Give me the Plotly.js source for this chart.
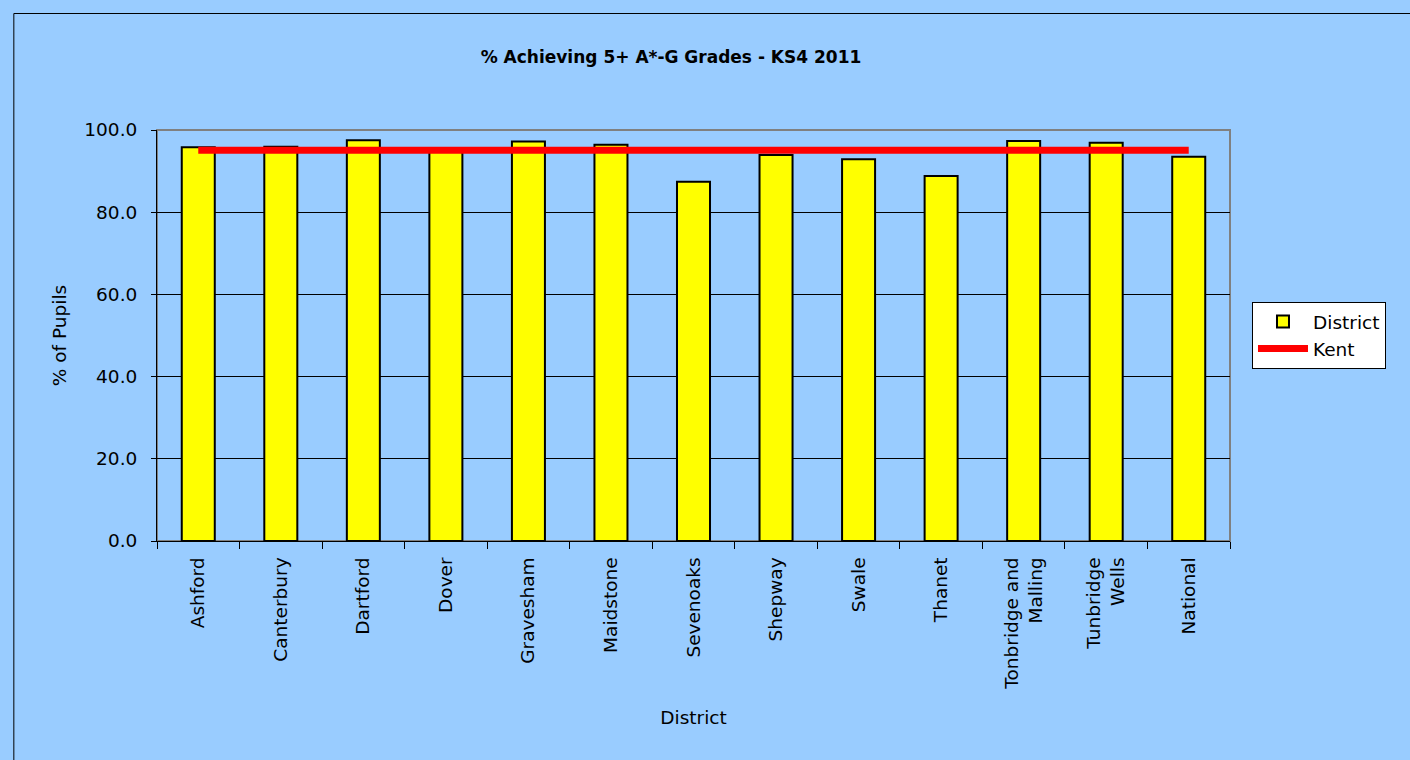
<!DOCTYPE html>
<html>
<head>
<meta charset="utf-8">
<script src="https://cdn.plot.ly/plotly-3.0.1.min.js"></script>
<style>html,body{margin:0;padding:0;background:#99CCFF;}#chart{width:1410px;height:760px;}</style>
</head>
<body>
<div id="chart"></div>
<script>
const districts = ["Ashford","Canterbury","Dartford","Dover","Gravesham","Maidstone","Sevenoaks","Shepway","Swale","Thanet","Tonbridge and<br>Malling","Tunbridge<br>Wells","National"];
const districtValues = [95.8, 95.9, 97.5, 95.0, 97.2, 96.4, 87.4, 93.9, 92.9, 88.8, 97.3, 96.9, 93.5];
const kentValues = [95.1, 95.1, 95.1, 95.1, 95.1, 95.1, 95.1, 95.1, 95.1, 95.1, 95.1, 95.1, 95.1];
const yTicks = [0, 20, 40, 60, 80, 100];
const yTickLabels = ["0.0", "20.0", "40.0", "60.0", "80.0", "100.0"];

const FONT = "DejaVu Sans, Verdana, sans-serif";
const FS = 18.5;
const L = 156.7, R = 1230, T = 130, B = 541;
const W = 1410, H = 760;
const pw = R - L, ph = B - T;
function px2x(p){ return (p - L) / pw; }
function py2y(p){ return (B - p) / ph; }

const traces = [
  {
    type: "bar", name: "District", x: districts, y: districtValues,
    marker: {color: "#FFFF00", line: {color: "#000000", width: 2}},
    hoverinfo: "x+y"
  },
  {
    type: "scatter", mode: "lines", name: "Kent", x: districts, y: kentValues,
    line: {color: "#FF0000", width: 7, shape: "linear"},
    hoverinfo: "x+y"
  }
];

const layout = {
  width: W, height: H,
  paper_bgcolor: "#99CCFF",
  plot_bgcolor: "#99CCFF",
  font: {family: FONT, size: FS, color: "#000000"},
  margin: {l: L, r: W - R, t: T, b: H - B, pad: 0},
  bargap: 0.6,
  showlegend: true,
  title: {
    text: "<b>% Achieving 5+ A*-G Grades - KS4 2011</b>",
    font: {family: FONT, size: 17, color: "#000000"},
    xref: "container", yref: "container",
    x: 671 / W, y: 1 - 57 / H, xanchor: "center", yanchor: "middle"
  },
  xaxis: {
    type: "category",
    tickangle: -90,
    tickson: "boundaries",
    ticks: "outside", ticklen: 7, tickcolor: "#000000", tickwidth: 1,
    ticklabelstandoff: 8,
    showline: true, linecolor: "#000000", linewidth: 1,
    showgrid: false, zeroline: false,
    tickfont: {family: FONT, size: FS, color: "#000000"},
    title: {text: "District", font: {family: FONT, size: FS, color: "#000000"}, standoff: 22},
    automargin: false
  },
  yaxis: {
    range: [0, 100],
    tickvals: yTicks, ticktext: yTickLabels,
    ticks: "outside", ticklen: 5, tickcolor: "#000000", tickwidth: 1,
    ticklabelstandoff: 10,
    showline: true, linecolor: "#000000", linewidth: 1,
    showgrid: true, gridcolor: "#000000", gridwidth: 1,
    zeroline: false,
    tickfont: {family: FONT, size: FS, color: "#000000"},
    title: {text: "% of Pupils", font: {family: FONT, size: FS, color: "#000000"}, standoff: 12},
    automargin: false
  },
  legend: {
    x: px2x(1252), y: py2y(302), xanchor: "left", yanchor: "top",
    bgcolor: "#FFFFFF", bordercolor: "#000000", borderwidth: 1,
    font: {family: FONT, size: FS, color: "#000000"},
    itemwidth: 50,
    tracegroupgap: 6
  },
  shapes: [
    {type: "rect", xref: "paper", yref: "paper", x0: 0, x1: 1, y0: 0, y1: 1,
     line: {color: "#808080", width: 2}, fillcolor: "rgba(0,0,0,0)", layer: "below"},
    {type: "rect", xref: "paper", yref: "paper",
     x0: px2x(13.5), x1: px2x(1430), y0: py2y(780), y1: py2y(13.5),
     line: {color: "#000000", width: 1}, fillcolor: "rgba(0,0,0,0)", layer: "below"}
  ]
};

Plotly.newPlot("chart", traces, layout, {displayModeBar: false, responsive: false});
</script>
</body>
</html>
